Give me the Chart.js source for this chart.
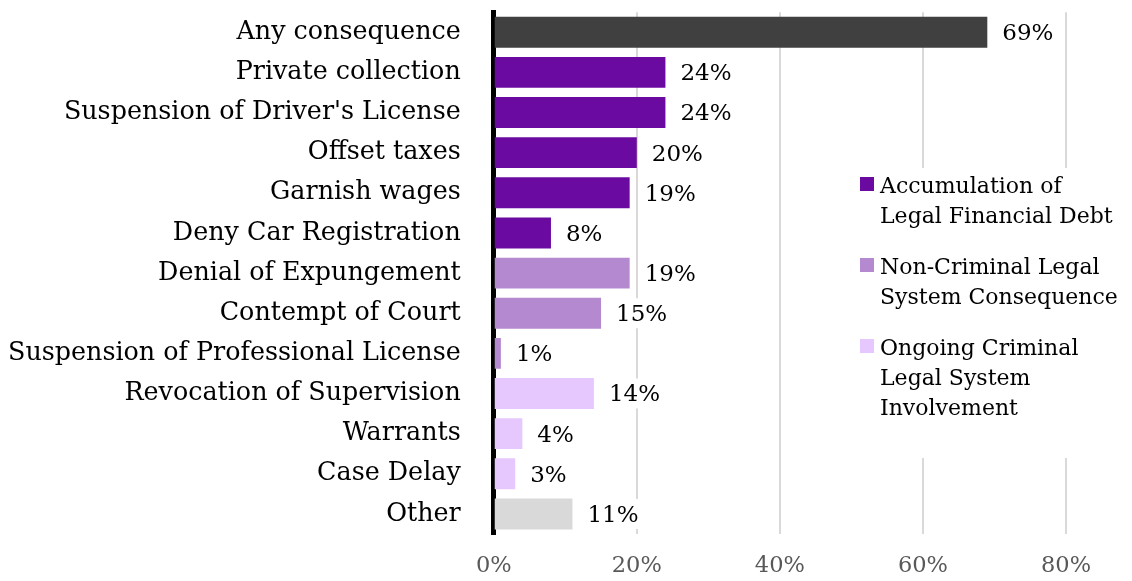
<!DOCTYPE html>
<html>
<head>
<meta charset="utf-8">
<script src="https://cdn.jsdelivr.net/npm/chart.js@4"></script>
<style>
  html, body { margin: 0; padding: 0; background: #fff; }
  #wrap { width: 1132px; height: 581px; }
</style>
</head>
<body>
<div id="wrap"><canvas id="consequenceChart" width="1132" height="581"></canvas></div>
<script>
// categories, top to bottom
const categories = [
  'Any consequence', 'Private collection', "Suspension of Driver's License",
  'Offset taxes', 'Garnish wages', 'Deny Car Registration',
  'Denial of Expungement', 'Contempt of Court', 'Suspension of Professional License',
  'Revocation of Supervision', 'Warrants', 'Case Delay', 'Other'
];
const percentValues = [69, 24, 24, 20, 19, 8, 19, 15, 1, 14, 4, 3, 11];
// group index of each category: -1 any, 0..2 legend groups, 3 other
const categoryGroup = [-1, 0, 0, 0, 0, 0, 1, 1, 1, 2, 2, 2, 3];
const groupNames = [
  ['Accumulation of', 'Legal Financial Debt'],
  ['Non-Criminal Legal', 'System Consequence'],
  ['Ongoing Criminal', 'Legal System', 'Involvement']
];
const xTicks = [0, 20, 40, 60, 80];

const groupColors = ['#6B0AA0', '#B589D0', '#E6C8FE', '#D9D9D9'];
const anyColor = '#404040';
const FONT = "Georgia, 'DejaVu Serif', serif";

const barColors = categoryGroup.map(g => g < 0 ? anyColor : groupColors[g]);

// value labels with white box behind them
const valueLabels = {
  id: 'valueLabels',
  afterDatasetsDraw(chart) {
    const ctx = chart.ctx;
    const meta = chart.getDatasetMeta(0);
    ctx.save();
    ctx.font = '23px ' + FONT;
    ctx.textBaseline = 'middle';
    meta.data.forEach((bar, i) => {
      const txt = percentValues[i] + '%';
      const x = bar.x + 15;
      const w = ctx.measureText(txt).width;
      ctx.fillStyle = '#fff';
      ctx.fillRect(x - 4, bar.y - 15, w + 8, 30);
      ctx.fillStyle = '#000';
      ctx.fillText(txt, x, bar.y + 2);
    });
    ctx.restore();
  }
};

// legend drawn inside the plot, multi-line entries
const sideLegend = {
  id: 'sideLegend',
  afterDatasetsDraw(chart) {
    const ctx = chart.ctx;
    ctx.save();
    ctx.fillStyle = '#fff';
    ctx.fillRect(852, 168, 278, 290);
    ctx.font = '22px ' + FONT;
    ctx.textBaseline = 'alphabetic';
    let y = 193;
    groupNames.forEach((lines, g) => {
      ctx.fillStyle = groupColors[g];
      ctx.fillRect(860, y - 16, 14, 14);
      ctx.fillStyle = '#000';
      lines.forEach((ln, k) => {
        ctx.fillText(ln, 880, y + k * 30);
      });
      y += lines.length * 30 + 21;
    });
    ctx.restore();
  }
};

const ctx = document.getElementById('consequenceChart').getContext('2d');
new Chart(ctx, {
  type: 'bar',
  data: {
    labels: categories,
    datasets: [{
      data: percentValues,
      backgroundColor: barColors,
      categoryPercentage: 0.77,
      barPercentage: 1.0
    }]
  },
  options: {
    indexAxis: 'y',
    responsive: false,
    animation: false,
    layout: { padding: { top: 10, right: 66, left: 6, bottom: 2 } },
    plugins: { legend: { display: false }, tooltip: { enabled: false } },
    scales: {
      x: {
        min: 0, max: 80,
        afterBuildTicks: axis => { axis.ticks = xTicks.map(v => ({ value: v })); },
        afterFit: axis => { axis.height = 45; },
        grid: { color: '#D9D9D9', lineWidth: 2, drawTicks: false },
        border: { display: false },
        ticks: {
          padding: 19,
          color: '#595959',
          font: { family: FONT, size: 22.5 },
          callback: v => v + '%'
        }
      },
      y: {
        grid: { display: false, drawTicks: true, tickLength: 31 },
        border: { color: '#000', width: 5 },
        ticks: {
          padding: 2,
          color: '#000',
          font: { family: FONT, size: 25.4, lineHeight: 0.8 }
        }
      }
    }
  },
  plugins: [valueLabels, sideLegend]
});
</script>
</body>
</html>
